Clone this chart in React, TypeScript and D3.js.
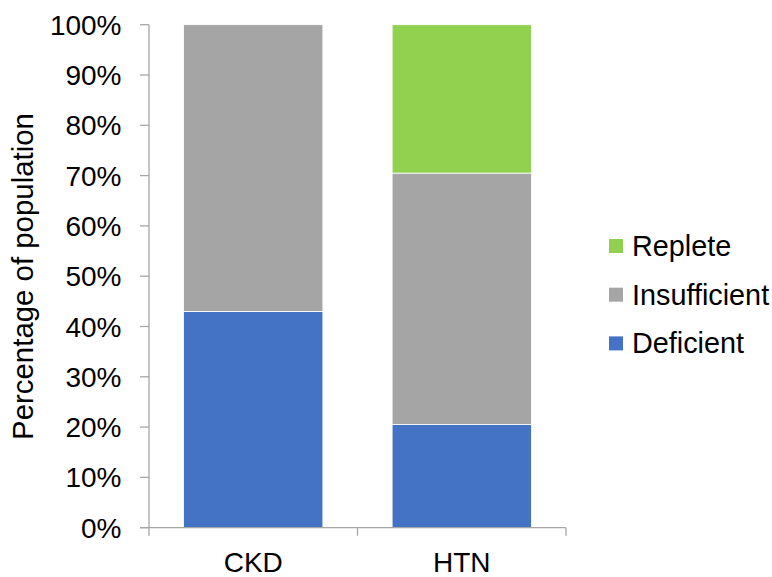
import React from "react";
import * as d3 from "d3";

// Vitamin D status by patient group (percent of population)
const categories = ["CKD", "HTN"];
const deficient = [43, 20.5];
const insufficient = [57, 50];
const replete = [0, 29.5];
const seriesNames = ["Deficient", "Insufficient", "Replete"];
const seriesColors = ["#4472C4", "#A5A5A5", "#92D050"];
const yTicks = [0, 10, 20, 30, 40, 50, 60, 70, 80, 90, 100];

const W = 772;
const H = 577;
const FONT = "'Liberation Sans', Arial, sans-serif";
const AXIS = "#A6A6A6";

export default function App() {
  const rows = categories.map((c, i) => ({
    cat: c,
    Deficient: deficient[i],
    Insufficient: insufficient[i],
    Replete: replete[i],
  }));
  const stacked = d3.stack<any>().keys(seriesNames)(rows);

  const y = d3.scaleLinear().domain([0, 100]).range([527.7, 24.7]);
  const x = d3.scaleBand<string>().domain(categories).range([149, 566]).padding(0);
  const barW = x.bandwidth() * 0.668;
  const x0 = 149;
  const x1 = 566;
  const yBase = y(0);

  return (
    <svg
      width={W}
      height={H}
      style={{ position: "absolute", left: 0, top: 0, background: "#fff" }}
      fontFamily={FONT}
    >
      {/* stacked bars */}
      {stacked.map((layer, si) => (
        <g key={seriesNames[si]} fill={seriesColors[si]}>
          {layer.map((d: any, i: number) => {
            const h = y(d[0]) - y(d[1]);
            if (h <= 0) return null;
            const cx = (x(categories[i]) as number) + x.bandwidth() / 2;
            return (
              <rect
                key={i}
                x={cx - barW / 2}
                y={y(d[1])}
                width={barW}
                height={h}
                stroke="#ffffff"
                strokeWidth={0.8}
              />
            );
          })}
        </g>
      ))}

      {/* y axis */}
      <line x1={x0} x2={x0} y1={y(100)} y2={yBase} stroke={AXIS} strokeWidth={1.3} />
      {yTicks.map((t) => (
        <g key={t}>
          <line x1={x0 - 9} x2={x0} y1={y(t)} y2={y(t)} stroke={AXIS} strokeWidth={1.3} />
          <text
            x={121.5}
            y={y(t)}
            dy="0.36em"
            textAnchor="end"
            fontSize={28}
            fill="#000"
          >
            {t}%
          </text>
        </g>
      ))}

      {/* x axis */}
      <line x1={x0 - 9} x2={x1} y1={yBase} y2={yBase} stroke={AXIS} strokeWidth={1.3} />
      {[x0, ...categories.map((c) => (x(c) as number) + x.bandwidth())].map((px, i) => (
        <line key={i} x1={px} x2={px} y1={yBase} y2={yBase + 8} stroke={AXIS} strokeWidth={1.3} />
      ))}
      {categories.map((c) => (
        <text
          key={c}
          x={(x(c) as number) + x.bandwidth() / 2}
          y={571.5}
          textAnchor="middle"
          fontSize={28}
          fill="#000"
        >
          {c}
        </text>
      ))}

      {/* y axis title */}
      <text
        transform={`translate(33,276.5) rotate(-90)`}
        textAnchor="middle"
        fontSize={29.4}
        fill="#000"
      >
        Percentage of population
      </text>

      {/* legend */}
      {[2, 1, 0].map((si, k) => {
        const cy = 246 + k * 48.7;
        return (
          <g key={si}>
            <rect x={609} y={cy - 7} width={14} height={14} fill={seriesColors[si]} />
            <text x={632} y={cy + 10} fontSize={28.8} fill="#000">
              {seriesNames[si]}
            </text>
          </g>
        );
      })}
    </svg>
  );
}
